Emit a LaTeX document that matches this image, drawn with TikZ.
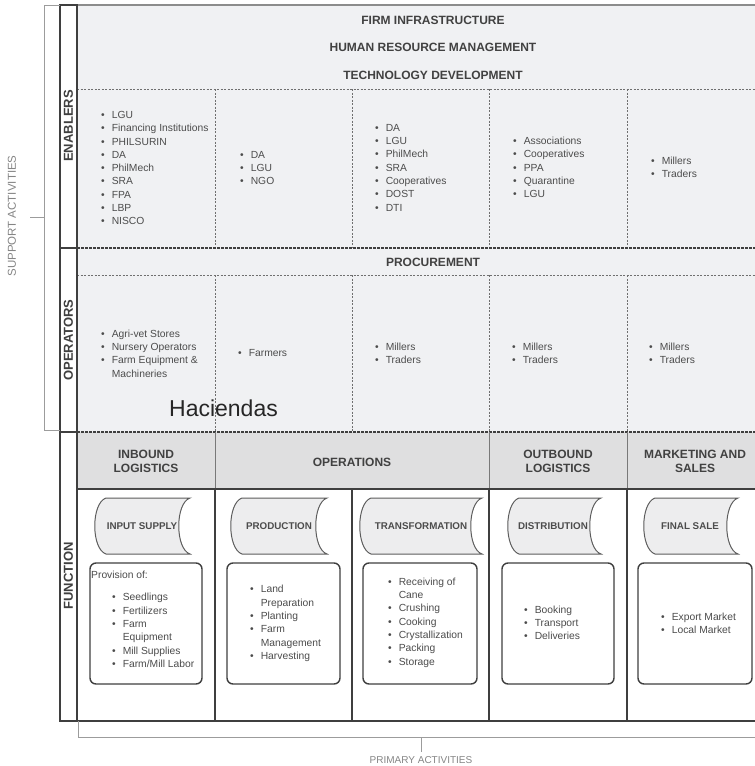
\documentclass[tikz,border=0pt]{standalone}
\usepackage{fontspec}
\setmainfont{Liberation Sans}
\usetikzlibrary{positioning}

\definecolor{supportbg}{HTML}{F0F1F3}
\definecolor{headbg}{HTML}{DFDFE0}
\definecolor{tapebg}{HTML}{EDEDEE}
\definecolor{linedark}{HTML}{3F3F3F}
\definecolor{linegray}{HTML}{9C9C9C}
\definecolor{txtgray}{HTML}{4C4C4C}

\tikzset{
	frame/.style={draw=linedark, line width=1.6pt},
	thinframe/.style={draw=linedark!70, line width=1pt},
	dashline/.style={draw=linedark!75, line width=1pt, dash pattern=on 2pt off 1.5pt},
	thickdash/.style={draw=linedark, line width=2pt, dash pattern=on 3pt off 1pt},
	bracket/.style={draw=linegray, line width=1pt},
	heading/.style={font=\fontsize{12}{14.5}\selectfont\bfseries, text=txtgray!85!black, inner sep=0pt, align=center},
	sidelabel/.style={font=\fontsize{13}{15}\selectfont\bfseries, text=linedark, rotate=90, inner sep=0pt},
	items/.style={font=\fontsize{10.3}{13.3}\selectfont, text=txtgray, inner sep=0pt, anchor=west},
	tapebox/.style={draw=linedark!85, line width=1pt, fill=tapebg},
	tapetext/.style={font=\fontsize{9.8}{12}\selectfont\bfseries, text=txtgray, inner sep=0pt},
	itembox/.style={draw=linedark, line width=1.4pt, rounded corners=6pt, fill=white},
	activity/.style={font=\fontsize{10}{12}\selectfont, text=linegray!85!black, inner sep=0pt}
}

\newcommand{\blist}[1]{\begin{tabular}{@{}l@{\hspace{7pt}}l@{}}#1\end{tabular}}
%% stored-data shape: x1, y1, x2, y2
\newcommand{\tape}[4]{%
	\draw[tapebox] (#1+12,#2) -- (#3,#2)
		.. controls (#3-15,#2+5) and (#3-15,#4-5) .. (#3,#4)
		-- (#1+12,#4)
		.. controls (#1-3,#4-5) and (#1-3,#2+5) .. (#1+12,#2) -- cycle;}

\begin{document}
\begin{tikzpicture}[x=1pt, y=-1pt]
	\useasboundingbox (0,0) rectangle (755,766);
	\clip (0,0) rectangle (755,766);

	%%backgrounds
	\fill[supportbg] (77,5) rectangle (790,432);
	\fill[headbg] (77,432) rectangle (790,489);

	%%support grid
	\draw[dashline] (77,89) -- (790,89);
	\draw[dashline] (77,275) -- (790,275);
	\foreach \x in {215,352,489,627}{
		\draw[dashline] (\x,89) -- (\x,248);
		\draw[dashline] (\x,275) -- (\x,432);
	}
	\draw[thickdash] (77,248) -- (790,248);
	\draw[thickdash] (77,432) -- (790,432);
	\draw[draw=linegray!90!black, line width=2pt] (77,5) -- (790,5);

	%%function grid
	\draw[thinframe] (215,432) -- (215,489);
	\draw[thinframe] (489,432) -- (489,489);
	\draw[thinframe] (627,432) -- (627,489);
	\draw[frame] (77,489) -- (790,489);
	\foreach \x in {215,352,489,627}
		\draw[frame] (\x,489) -- (\x,721);
	\draw[frame] (77,721) -- (790,721);

	%%side labels
	\draw[frame] (60,5) rectangle (77,248);
	\draw[frame] (60,248) rectangle (77,432);
	\draw[frame] (60,432) rectangle (77,721);
	\node[sidelabel] (enablers) at (68.5,126) {ENABLERS};
	\node[sidelabel] (operators) at (68.5,340) {OPERATORS};
	\node[sidelabel] (function) at (68.5,576) {FUNCTION};

	%%brackets
	\draw[bracket] (60,5) -- (44,5) -- (44,430) -- (60,430);
	\draw[bracket] (30,217) -- (44,217);
	\node[activity, font=\fontsize{11.5}{13}\selectfont, rotate=90] (support) at (12,216) {SUPPORT ACTIVITIES};
	\draw[bracket] (78,721) -- (78,737) -- (790,737);
	\draw[bracket] (421,737) -- (421,752);
	\node[activity] (primary) at (421,760) {PRIMARY ACTIVITIES};

	%%support headings
	\node[heading] (firm) at (433,20) {FIRM INFRASTRUCTURE};
	\node[heading] (hrm) at (433,47.5) {HUMAN RESOURCE MANAGEMENT};
	\node[heading] (tech) at (433,75) {TECHNOLOGY DEVELOPMENT};
	\node[heading] (procure) at (433,262) {PROCUREMENT};

	%%enablers
	\node[items] (en1) at (101,169) {\blist{\textbullet & LGU\\ \textbullet & Financing Institutions\\ \textbullet & PHILSURIN\\ \textbullet & DA\\ \textbullet & PhilMech\\ \textbullet & SRA\\ \textbullet & FPA\\ \textbullet & LBP\\ \textbullet & NISCO}};
	\node[items] (en2) at (240,169) {\blist{\textbullet & DA\\ \textbullet & LGU\\ \textbullet & NGO}};
	\node[items] (en3) at (375,168.5) {\blist{\textbullet & DA\\ \textbullet & LGU\\ \textbullet & PhilMech\\ \textbullet & SRA\\ \textbullet & Cooperatives\\ \textbullet & DOST\\ \textbullet & DTI}};
	\node[items] (en4) at (513,168.5) {\blist{\textbullet & Associations\\ \textbullet & Cooperatives\\ \textbullet & PPA\\ \textbullet & Quarantine\\ \textbullet & LGU}};
	\node[items] (en5) at (651,168.5) {\blist{\textbullet & Millers\\ \textbullet & Traders}};

	%%operators
	\node[items] (op1) at (101,354.5) {\blist{\textbullet & Agri-vet Stores\\ \textbullet & Nursery Operators\\ \textbullet & Farm Equipment \&\\ & Machineries}};
	\node[items] (op2) at (238,354) {\blist{\textbullet & Farmers}};
	\node[items] (op3) at (375,354) {\blist{\textbullet & Millers\\ \textbullet & Traders}};
	\node[items] (op4) at (512,354) {\blist{\textbullet & Millers\\ \textbullet & Traders}};
	\node[items] (op5) at (649,354) {\blist{\textbullet & Millers\\ \textbullet & Traders}};
	\node[font=\fontsize{23}{26}\selectfont, text=black!85, inner sep=0pt, anchor=base] (haciendas) at (223.5,416) {Haciendas};

	%%function headers
	\node[heading] (inbound) at (146,461.5) {INBOUND\\LOGISTICS};
	\node[heading] (operations) at (352,462) {OPERATIONS};
	\node[heading] (outbound) at (558,461.5) {OUTBOUND\\LOGISTICS};
	\node[heading] (marketing) at (695,461.5) {MARKETING AND\\SALES};

	%%stages
	\tape{94}{498}{190}{554}
	\node[tapetext] (supply) at (142,526) {INPUT SUPPLY};
	\tape{230}{498}{327}{554}
	\node[tapetext] (production) at (279,526) {PRODUCTION};
	\tape{359}{498}{482}{554}
	\node[tapetext] (transform) at (421,526) {TRANSFORMATION};
	\tape{507}{498}{601}{554}
	\node[tapetext] (distribution) at (553,526) {DISTRIBUTION};
	\tape{643}{498}{738}{554}
	\node[tapetext] (finalsale) at (690,526) {FINAL SALE};

	%%stage details
	\draw[itembox] (90,563) rectangle (202,684);
	\draw[itembox] (227,563) rectangle (340,684);
	\draw[itembox] (363,563) rectangle (477,684);
	\draw[itembox] (502,563) rectangle (614,684);
	\draw[itembox] (638,563) rectangle (752,684);
	\node[items] (provision) at (91,575) {Provision of:};
	\node[items] (fn1) at (112,631.5) {\blist{\textbullet & Seedlings\\ \textbullet & Fertilizers\\ \textbullet & Farm\\ & Equipment\\ \textbullet & Mill Supplies\\ \textbullet & Farm/Mill Labor}};
	\node[items] (fn2) at (250,623.5) {\blist{\textbullet & Land\\ & Preparation\\ \textbullet & Planting\\ \textbullet & Farm\\ & Management\\ \textbullet & Harvesting}};
	\node[items] (fn3) at (388,622.5) {\blist{\textbullet & Receiving of\\ & Cane\\ \textbullet & Crushing\\ \textbullet & Cooking\\ \textbullet & Crystallization\\ \textbullet & Packing\\ \textbullet & Storage}};
	\node[items] (fn4) at (524,624) {\blist{\textbullet & Booking\\ \textbullet & Transport\\ \textbullet & Deliveries}};
	\node[items] (fn5) at (661,624) {\blist{\textbullet & Export Market\\ \textbullet & Local Market}};
\end{tikzpicture}
\end{document}
